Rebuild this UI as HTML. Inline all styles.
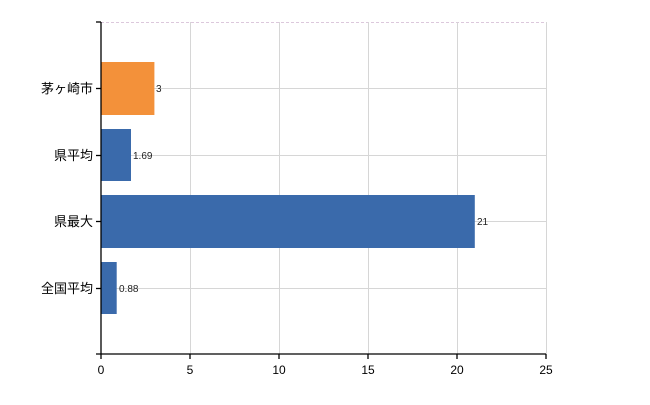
<!DOCTYPE html>
<html><head><meta charset="utf-8"><style>
body{margin:0;background:#fff;}
svg text{font-family:"Liberation Sans","Noto Sans CJK JP",sans-serif;}
</style></head><body>
<svg width="650" height="400" xmlns="http://www.w3.org/2000/svg">
<g stroke="#d6d6d6" stroke-width="1">
<line x1="101" y1="22.5" x2="546" y2="22.5" stroke-dasharray="3,2" stroke="#dcc8dc"/>
<line x1="101" y1="88.5" x2="546" y2="88.5"/>
<line x1="101" y1="155.5" x2="546" y2="155.5"/>
<line x1="101" y1="221.5" x2="546" y2="221.5"/>
<line x1="101" y1="288.5" x2="546" y2="288.5"/>
<line x1="190.5" y1="22" x2="190.5" y2="354"/>
<line x1="279.5" y1="22" x2="279.5" y2="354"/>
<line x1="368.5" y1="22" x2="368.5" y2="354"/>
<line x1="457.5" y1="22" x2="457.5" y2="354"/>
<line x1="546.5" y1="22" x2="546.5" y2="354"/>
</g>
<rect x="101" y="62" width="53.4" height="53" fill="#f3913a"/>
<rect x="101" y="129" width="30" height="52" fill="#3a6aab"/>
<rect x="101" y="195" width="373.8" height="53" fill="#3a6aab"/>
<rect x="101" y="262" width="15.7" height="52" fill="#3a6aab"/>
<g font-size="10" fill="#222">
<text x="156" y="92">3</text>
<text x="133" y="159">1.69</text>
<text x="477" y="225">21</text>
<text x="119" y="292">0.88</text>
</g>
<g stroke="#000" stroke-width="1.3">
<line x1="101" y1="22" x2="101" y2="354"/>
<line x1="96" y1="22" x2="101" y2="22"/>
<line x1="96" y1="354" x2="546" y2="354"/>
<line x1="96" y1="88.5" x2="101" y2="88.5"/>
<line x1="96" y1="155.5" x2="101" y2="155.5"/>
<line x1="96" y1="221.5" x2="101" y2="221.5"/>
<line x1="96" y1="288.5" x2="101" y2="288.5"/>
<line x1="101" y1="354" x2="101" y2="359"/>
<line x1="190" y1="354" x2="190" y2="359"/>
<line x1="279" y1="354" x2="279" y2="359"/>
<line x1="368" y1="354" x2="368" y2="359"/>
<line x1="457" y1="354" x2="457" y2="359"/>
<line x1="546" y1="354" x2="546" y2="359"/>
</g>
<g font-size="13" fill="#000" text-anchor="end">
<text x="93" y="93">茅ヶ崎市</text>
<text x="93" y="160">県平均</text>
<text x="93" y="226">県最大</text>
<text x="93" y="293">全国平均</text>
</g>
<g font-size="12" fill="#000" text-anchor="middle">
<text x="101" y="374">0</text>
<text x="190" y="374">5</text>
<text x="279" y="374">10</text>
<text x="368" y="374">15</text>
<text x="457" y="374">20</text>
<text x="546" y="374">25</text>
</g>
</svg>
</body></html>
